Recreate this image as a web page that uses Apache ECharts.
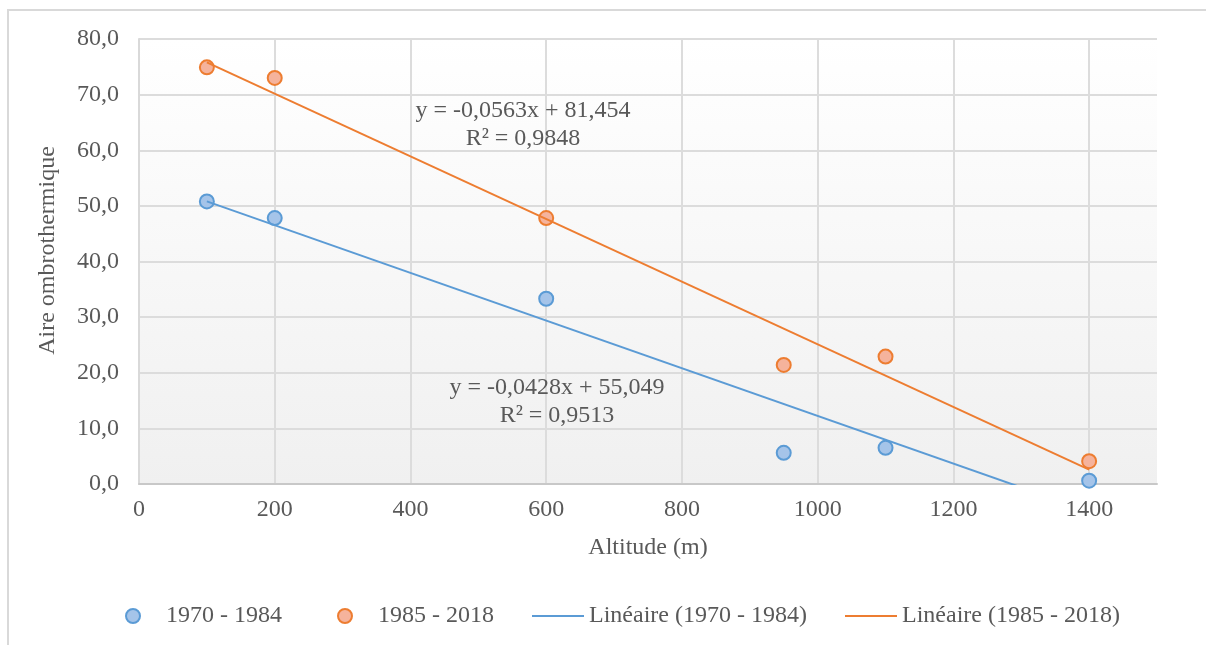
<!DOCTYPE html>
<html>
<head>
    <meta charset="UTF-8">
    <title>Aire ombrothermique - altitude</title>
    <script src="https://cdn.jsdelivr.net/npm/echarts@6/dist/echarts.min.js"></script>
    <style>
        html, body { margin: 0; padding: 0; background: #fff; }
    </style>
</head>
<body>
<div id="chart" style="width: 1206px;height:645px;"></div>

<script type="text/javascript">
    // points (altitude m, aire ombrothermique)
    var altitudes = [100, 200, 600, 950, 1100, 1400];
    var aire7084 = [50.8, 47.8, 33.3, 5.6, 6.5, 0.6];
    var aire8518 = [74.9, 73.0, 47.8, 21.4, 22.9, 4.1];

    // extrémités des droites de tendance (x = 100 et x = 1400)
    var trendX = [100, 1400];
    var trend7084 = [50.8, -4.9];
    var trend8518 = [75.8, 2.6];

    var equations = {
        a: ['y = -0,0563x + 81,454', 'R² = 0,9848'],
        b: ['y = -0,0428x + 55,049', 'R² = 0,9513']
    };

    var xGridLines = [200, 400, 600, 800, 1000, 1200, 1400];

    function pairs(xs, ys) {
        return xs.map(function (x, i) { return [x, ys[i]]; });
    }

    var font = 'Liberation Serif';
    var grey = '#595959';
    var blue = '#5b9bd5';
    var orange = '#ed7d31';

    var chart = echarts.init(document.getElementById('chart'));

    var legendBase = {
        top: 604,
        padding: 0,
        itemHeight: 14,
        itemWidth: 56,
        textStyle: {fontFamily: font, fontSize: 24, color: grey},
        selectedMode: false
    };

    var option = {
        backgroundColor: '#fff',
        animation: false,
        grid: {
            left: 139, right: 49, top: 39, bottom: 161,
            show: true,
            borderWidth: 0,
            backgroundColor: new echarts.graphic.LinearGradient(0, 0, 0, 1, [
                {offset: 0, color: '#ffffff'},
                {offset: 1, color: '#f0f0f0'}
            ])
        },
        legend: [
            Object.assign({}, legendBase, {left: 125, data: [{name: '1970 - 1984', icon: 'circle'}]}),
            Object.assign({}, legendBase, {left: 337, data: [{name: '1985 - 2018', icon: 'circle'}]}),
            Object.assign({}, legendBase, {left: 532, itemWidth: 52, itemHeight: 2,
                data: [{name: 'Linéaire (1970 - 1984)', icon: 'rect'}]}),
            Object.assign({}, legendBase, {left: 845, itemWidth: 52, itemHeight: 2,
                data: [{name: 'Linéaire (1985 - 2018)', icon: 'rect'}]})
        ],
        xAxis: {
            type: 'value',
            min: 0,
            max: 1500,
            interval: 200,
            name: 'Altitude (m)',
            nameLocation: 'middle',
            nameGap: 52,
            nameTextStyle: {fontFamily: font, fontSize: 24, color: grey},
            axisLine: {show: true, lineStyle: {color: '#c8c8c8', width: 2}},
            axisTick: {show: false},
            splitLine: {show: false},
            axisLabel: {
                fontFamily: font, fontSize: 24, color: grey, margin: 14,
                showMaxLabel: false,
                formatter: function (v) { return String(v); }
            }
        },
        yAxis: {
            type: 'value',
            min: 0,
            max: 80,
            interval: 10,
            name: 'Aire ombrothermique',
            nameLocation: 'middle',
            nameGap: 79,
            nameTextStyle: {fontFamily: font, fontSize: 24, color: grey, padding: [0, 0, 0, 22]},
            axisLine: {show: true, lineStyle: {color: '#d9d9d9', width: 2}},
            axisTick: {show: false},
            splitLine: {lineStyle: {color: '#dcdcdc', width: 2}},
            axisLabel: {
                fontFamily: font, fontSize: 24, color: grey, margin: 20,
                formatter: function (v) { return v.toFixed(1).replace('.', ','); }
            }
        },
        series: [
            {
                name: '1970 - 1984',
                type: 'scatter',
                symbolSize: 14,
                data: pairs(altitudes, aire7084),
                itemStyle: {color: '#a5c4e9', borderColor: blue, borderWidth: 2, opacity: 1},
                markLine: {
                    silent: true,
                    symbol: 'none',
                    label: {show: false},
                    lineStyle: {color: '#dcdcdc', width: 2, type: 'solid'},
                    data: xGridLines.map(function (x) { return {xAxis: x}; }),
                    z: 0
                }
            },
            {
                name: '1985 - 2018',
                type: 'scatter',
                symbolSize: 14,
                data: pairs(altitudes, aire8518),
                itemStyle: {color: '#f5b39c', borderColor: orange, borderWidth: 2, opacity: 1}
            },
            {
                name: 'Linéaire (1970 - 1984)',
                type: 'line',
                symbol: 'none',
                clip: true,
                data: pairs(trendX, trend7084),
                lineStyle: {color: blue, width: 2},
                itemStyle: {color: blue}
            },
            {
                name: 'Linéaire (1985 - 2018)',
                type: 'line',
                symbol: 'none',
                clip: true,
                data: pairs(trendX, trend8518),
                lineStyle: {color: orange, width: 2},
                itemStyle: {color: orange}
            }
        ],
        graphic: [
            {
                type: 'rect',
                silent: true,
                shape: {x: 8, y: 10, width: 1400, height: 800},
                style: {fill: 'none', stroke: '#d9d9d9', lineWidth: 2},
                z: -10
            },
            {
                type: 'text',
                x: 523, y: 97,
                style: {
                    text: equations.a.join('\n'),
                    font: '24px "Liberation Serif"',
                    fill: grey,
                    align: 'center',
                    lineHeight: 28
                },
                z: 100
            },
            {
                type: 'text',
                x: 557, y: 374,
                style: {
                    text: equations.b.join('\n'),
                    font: '24px "Liberation Serif"',
                    fill: grey,
                    align: 'center',
                    lineHeight: 28
                },
                z: 100
            }
        ]
    };

    chart.setOption(option);
</script>
</body>
</html>
